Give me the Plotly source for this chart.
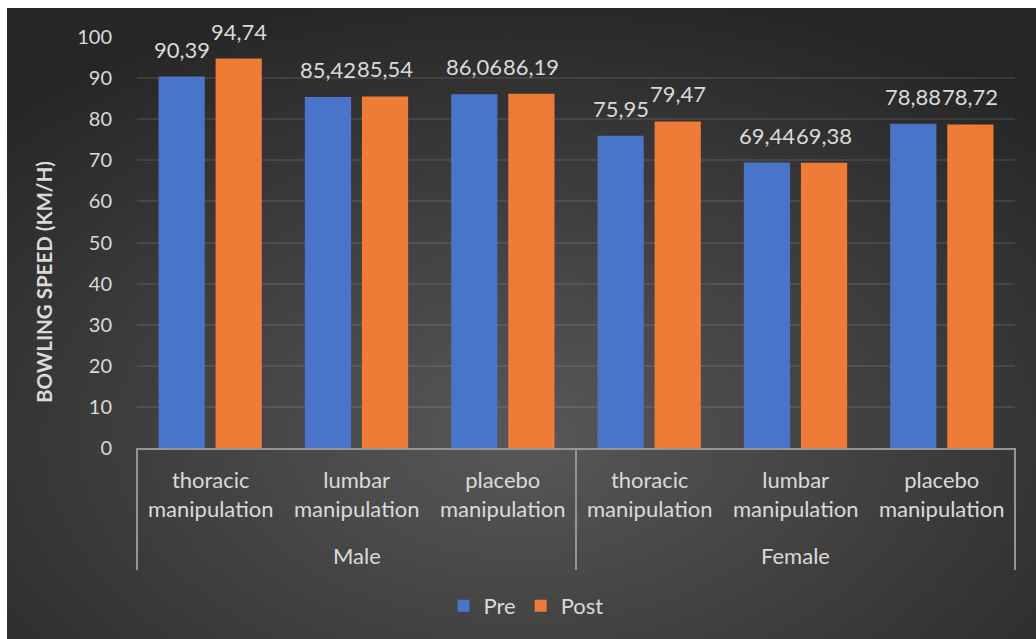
import base64
import plotly.graph_objects as go

# Bowling speed before and after spinal manipulation, by sex
sexes = ["Male", "Male", "Male", "Female", "Female", "Female"]
treatments = [
    "thoracic<br>manipulation", "lumbar<br>manipulation", "placebo<br>manipulation",
    "thoracic<br>manipulation", "lumbar<br>manipulation", "placebo<br>manipulation",
]
groups = ["Male", "Female"]
pre_speed = [90.39, 85.42, 86.06, 75.95, 69.44, 78.88]
post_speed = [94.74, 85.54, 86.19, 79.47, 69.38, 78.72]
y_ticks = list(range(0, 101, 10))

TEXT = "#dadada"
LINE = "#959595"
FONT = "Lato"

BARGAP, GROUPGAP = 0.22, 0.19


def fmt(v):
    return f"{v:.2f}".replace(".", ",")


fig = go.Figure()
fig.add_trace(go.Bar(
    name="Pre", x=[sexes, treatments], y=pre_speed,
    marker=dict(color="#4a74c9", line=dict(width=0)),
))
fig.add_trace(go.Bar(
    name="Post", x=[sexes, treatments], y=post_speed,
    marker=dict(color="#ee7b36", line=dict(width=0)),
))

# dark radial backdrop behind the chart
W, H = 1029, 631
svg = (
    f'<svg xmlns="http://www.w3.org/2000/svg" width="{W}" height="{H}" '
    f'viewBox="0 0 {W} {H}" preserveAspectRatio="none">'
    '<defs><radialGradient id="g" cx="0.5" cy="0.68" r="0.72">'
    '<stop offset="0" stop-color="#585858"/>'
    '<stop offset="1" stop-color="#262626"/>'
    '</radialGradient></defs>'
    f'<rect width="{W}" height="{H}" fill="url(#g)"/></svg>'
)
bg_src = "data:image/svg+xml;base64," + base64.b64encode(svg.encode()).decode()

L, R, T, B = 137, 21, 37, 191
pw, ph = 1036 - L - R, 639 - T - B
n_cat = len(treatments)


def px_x(px):
    return (px - L) / pw


def px_y(py):
    return (639 - B - py) / ph


def cat_x(i, shift=0.0):
    # paper position of category i (axis range is [-0.5, n-0.5])
    return (i + 0.5 + shift) / n_cat


# offset of each bar centre within its group, in category units
slot = (1 - BARGAP) / 2
offsets = {"Pre": -slot / 2, "Post": slot / 2}

annotations = []
for name, vals in (("Pre", pre_speed), ("Post", post_speed)):
    for i, v in enumerate(vals):
        annotations.append(dict(
            text=fmt(v), xref="paper", yref="y", x=cat_x(i, offsets[name]), y=v,
            xanchor="center", yanchor="bottom", yshift=12, showarrow=False,
            font=dict(size=22, color=TEXT, family=FONT),
        ))

# treatment labels under each group of bars
for i, t in enumerate(treatments):
    annotations.append(dict(
        text=t, xref="paper", yref="paper", x=cat_x(i), y=px_y(494),
        xanchor="center", yanchor="middle", showarrow=False,
        font=dict(size=22, color=TEXT, family=FONT),
    ))

# sex labels beneath the treatments
for g, name in enumerate(groups):
    annotations.append(dict(
        text=name, xref="paper", yref="paper", x=(g + 0.5) / len(groups), y=px_y(555),
        xanchor="center", yanchor="middle", showarrow=False,
        font=dict(size=22, color=TEXT, family=FONT),
    ))

annotations.append(dict(
    text="<b>BOWLING SPEED (KM/H)</b>", textangle=-90,
    xref="paper", yref="paper", x=px_x(44), y=px_y(282),
    xanchor="center", yanchor="middle", showarrow=False,
    font=dict(size=20.5, color=TEXT, family=FONT),
))

# group dividers on the category axis
shapes = [
    dict(type="line", xref="paper", yref="paper", x0=g / len(groups), x1=g / len(groups),
         y0=0, y1=px_y(570), line=dict(color=LINE, width=2))
    for g in range(len(groups) + 1)
]

fig.update_layout(
    width=1036, height=639,
    margin=dict(l=L, r=R, t=T, b=B, pad=0),
    paper_bgcolor="white",
    plot_bgcolor="rgba(0,0,0,0)",
    barmode="group", bargap=BARGAP, bargroupgap=GROUPGAP,
    font=dict(family=FONT, color=TEXT, size=20),
    showlegend=True,
    legend=dict(
        orientation="h", x=px_x(526), xanchor="center", y=px_y(606), yanchor="middle",
        font=dict(size=22, color=TEXT, family=FONT), bgcolor="rgba(0,0,0,0)",
        itemwidth=30, tracegroupgap=0,
    ),
    images=[dict(
        source=bg_src, xref="paper", yref="paper",
        x=px_x(7), y=px_y(8), sizex=px_x(1036) - px_x(7), sizey=px_y(8) - px_y(639),
        xanchor="left", yanchor="top", sizing="stretch", layer="below",
    )],
    xaxis=dict(
        type="multicategory", range=[-0.5, n_cat - 0.5],
        showline=True, linecolor=LINE, linewidth=2,
        showticklabels=False, showdividers=False,
        showgrid=False, ticks="",
    ),
    yaxis=dict(
        range=[0, 100], tickvals=y_ticks, ticktext=[str(v) for v in y_ticks],
        showgrid=True, gridcolor="rgba(255,255,255,0.09)", gridwidth=2,
        zeroline=False, showline=False, ticks="",
        tickfont=dict(size=20, color=TEXT, family=FONT),
        ticklabelstandoff=24,
    ),
    annotations=annotations,
    shapes=shapes,
)

fig.write_html("out.html")
